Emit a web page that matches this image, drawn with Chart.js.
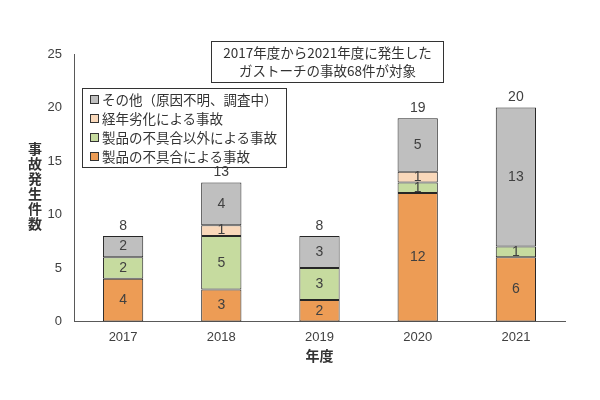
<!DOCTYPE html>
<html lang="ja">
<head>
<meta charset="utf-8">
<script src="https://cdn.jsdelivr.net/npm/chart.js@4.4.1/dist/chart.umd.min.js"></script>
<style>
    html, body { margin: 0; padding: 0; background: #fff; }
    #wrap { position: relative; width: 600px; height: 400px; font-family: "Noto Sans CJK JP", sans-serif; color: #333; }
    #chart { position: absolute; left: 0; top: 0; }
    .note { position: absolute; left: 211px; top: 41px; width: 231px; height: 39px; border: 1px solid #333;
            font-size: 13.5px; line-height: 18px; text-align: center; padding-top: 1px; box-sizing: content-box; }
    .legend { position: absolute; left: 82px; top: 88px; width: 203px; height: 77px; border: 1px solid #333;
              font-size: 13.5px; line-height: 19px; padding-top: 1px; }
    .legend div { white-space: nowrap; padding-left: 7px; }
    .legend span { display: inline-block; width: 7px; height: 7px; border: 1px solid #333; margin-right: 3px; vertical-align: 1px; }
    .ytitle { position: absolute; left: 27px; top: 142px; writing-mode: vertical-rl; text-orientation: upright;
              font-size: 14px; font-weight: bold; letter-spacing: 1px; line-height: 16px; color: #333; }
</style>
</head>
<body>
<div id="wrap">
    <canvas id="chart" width="600" height="400"></canvas>
    <div class="note">2017年度から2021年度に発生した<br>ガストーチの事故68件が対象</div>
    <div class="legend" id="legend"></div>
    <div class="ytitle">事故発生件数</div>
</div>
<script>
// 年度
var years = ['2017', '2018', '2019', '2020', '2021'];
// 系列（下から順）
var seriesNames = ['製品の不具合による事故', '製品の不具合以外による事故', '経年劣化による事故', 'その他（原因不明、調査中）'];
var defectCnt  = [4, 3, 2, 12, 6];
var otherCnt   = [2, 5, 3, 1, 1];
var agingCnt   = [0, 1, 0, 1, 0];
var unknownCnt = [2, 4, 3, 5, 13];
var yTicks = [0, 5, 10, 15, 20, 25];

var colors = ['#ED9C55', '#C6DB9F', '#F9D8BA', '#BFBFBF'];
var numFont = '"Liberation Sans", sans-serif';

var seriesData = [defectCnt, otherCnt, agingCnt, unknownCnt];
var dataSet = [];
for (var i = 0; i < seriesData.length; i++) {
    dataSet.push({
        label: seriesNames[i],
        data: seriesData[i],
        backgroundColor: colors[i],
        borderColor: '#262626',
        borderWidth: function(ctx) { return ctx.raw ? 1 : 0; },
        borderSkipped: false,
        categoryPercentage: 1,
        barPercentage: 0.41
    });
}

// 凡例（上から逆順）
var legendHtml = '';
for (var j = seriesNames.length - 1; j >= 0; j--) {
    legendHtml += '<div><span style="background:' + colors[j] + '"></span>' + seriesNames[j] + '</div>';
}
document.getElementById('legend').innerHTML = legendHtml;

// 値ラベル描画
var valueLabels = {
    id: 'valueLabels',
    afterDatasetsDraw: function(chart) {
        var c = chart.ctx;
        c.save();
        c.textAlign = 'center';
        c.textBaseline = 'middle';
        c.font = '14px ' + numFont;
        c.fillStyle = '#404040';
        chart.data.datasets.forEach(function(ds, di) {
            var meta = chart.getDatasetMeta(di);
            meta.data.forEach(function(bar, k) {
                var v = ds.data[k];
                if (!v) return;
                var mid = (bar.y + bar.base) / 2;
                c.fillText(String(v), bar.x, mid);
            });
        });
        // 合計
        var topMeta = chart.getDatasetMeta(chart.data.datasets.length - 1);
        years.forEach(function(y, k) {
            var total = 0;
            chart.data.datasets.forEach(function(ds) { total += ds.data[k]; });
            var px = topMeta.data[k].x;
            var py = chart.scales.y.getPixelForValue(total);
            c.fillText(String(total), px, py - 10);
        });
        c.restore();
    }
};

new Chart(document.getElementById('chart').getContext('2d'), {
    type: 'bar',
    data: { labels: years, datasets: dataSet },
    options: {
        responsive: false,
        animation: false,
        layout: { padding: { top: 54, right: 35, bottom: 36, left: 0 } },
        plugins: { legend: { display: false }, tooltip: { enabled: false } },
        scales: {
            x: {
                stacked: true,
                grid: { display: false, drawTicks: false },
                border: { display: true, color: '#595959', width: 1 },
                ticks: { padding: 8, color: '#404040', font: { size: 13, family: numFont } },
                title: { display: true, text: '年度', color: '#333', padding: { top: 2, bottom: 0 },
                         font: { size: 14, weight: 'bold', family: '"Noto Sans CJK JP", sans-serif' } },
                afterFit: function(s) { s.height = 42.5; }
            },
            y: {
                stacked: true,
                min: 0,
                max: 25,
                afterBuildTicks: function(s) { s.ticks = yTicks.map(function(v) { return { value: v }; }); },
                grid: { display: false, drawTicks: false },
                border: { display: true, color: '#595959', width: 1 },
                ticks: { padding: 12, color: '#404040', font: { size: 13, family: numFont } },
                afterFit: function(s) { s.width = 74; }
            }
        }
    },
    plugins: [valueLabels]
});
</script>
</body>
</html>
